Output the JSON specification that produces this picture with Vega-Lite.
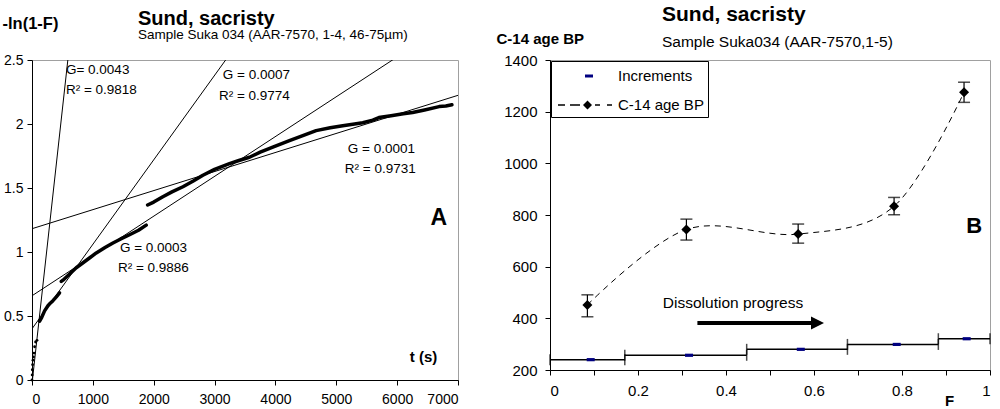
{
  "$schema": "https://vega.github.io/schema/vega-lite/v6.json",
  "background": "white",
  "padding": {"left": 1, "top": 3, "right": 0, "bottom": 0},
  "spacing": 36,
  "align": "none",
  "resolve": {"legend": {"shape": "independent", "color": "independent"}},
  "config": {
    "font": "Liberation Sans",
    "view": {"stroke": "#a0a0a0", "strokeWidth": 1},
    "axis": {"grid": false, "domainColor": "black", "domainWidth": 1, "tickColor": "black", "tickSize": 5, "labelColor": "black", "titleColor": "black", "labelFont": "Liberation Sans", "titleFont": "Liberation Sans", "titleFontWeight": "bold"},
    "title": {"color": "black", "subtitleColor": "black", "fontWeight": "bold", "anchor": "start"}
  },
  "datasets": {
    "curve": [
      {"t": 0, "y": 0, "seg": 1}, {"t": 3, "y": 0.04, "seg": 1}, {"t": 5, "y": 0.08, "seg": 1}, {"t": 10, "y": 0.12, "seg": 1}, {"t": 16, "y": 0.155, "seg": 1}, {"t": 25, "y": 0.18, "seg": 1}, {"t": 33, "y": 0.21, "seg": 1}, {"t": 43, "y": 0.26, "seg": 1}, {"t": 59, "y": 0.297, "seg": 1}, {"t": 82, "y": 0.31, "seg": 1},
      {"t": 125, "y": 0.46, "seg": 2}, {"t": 160, "y": 0.49, "seg": 2}, {"t": 207, "y": 0.54, "seg": 2}, {"t": 262, "y": 0.58, "seg": 2}, {"t": 300, "y": 0.6, "seg": 2}, {"t": 344, "y": 0.62, "seg": 2}, {"t": 400, "y": 0.65, "seg": 2}, {"t": 453, "y": 0.68, "seg": 2},
      {"t": 481, "y": 0.77, "seg": 3}, {"t": 509, "y": 0.78, "seg": 3}, {"t": 600, "y": 0.82, "seg": 3}, {"t": 727, "y": 0.877, "seg": 3}, {"t": 850, "y": 0.92, "seg": 3}, {"t": 950, "y": 0.955, "seg": 3}, {"t": 1056, "y": 0.993, "seg": 3}, {"t": 1200, "y": 1.035, "seg": 3}, {"t": 1330, "y": 1.07, "seg": 3}, {"t": 1450, "y": 1.1, "seg": 3}, {"t": 1603, "y": 1.135, "seg": 3}, {"t": 1750, "y": 1.17, "seg": 3}, {"t": 1877, "y": 1.21, "seg": 3},
      {"t": 1900, "y": 1.367, "seg": 4}, {"t": 2000, "y": 1.39, "seg": 4}, {"t": 2150, "y": 1.432, "seg": 4}, {"t": 2300, "y": 1.47, "seg": 4}, {"t": 2480, "y": 1.51, "seg": 4}, {"t": 2650, "y": 1.555, "seg": 4}, {"t": 2808, "y": 1.6, "seg": 4}, {"t": 3000, "y": 1.645, "seg": 4}, {"t": 3245, "y": 1.69, "seg": 4}, {"t": 3400, "y": 1.715, "seg": 4}, {"t": 3573, "y": 1.74, "seg": 4}, {"t": 3750, "y": 1.78, "seg": 4}, {"t": 3957, "y": 1.82, "seg": 4}, {"t": 4230, "y": 1.87, "seg": 4}, {"t": 4450, "y": 1.91, "seg": 4}, {"t": 4668, "y": 1.948, "seg": 4}, {"t": 4900, "y": 1.97, "seg": 4}, {"t": 5106, "y": 1.987, "seg": 4}, {"t": 5300, "y": 2.0, "seg": 4}, {"t": 5435, "y": 2.01, "seg": 4}, {"t": 5600, "y": 2.03, "seg": 4}, {"t": 5700, "y": 2.05, "seg": 4}, {"t": 5900, "y": 2.065, "seg": 4}, {"t": 6100, "y": 2.08, "seg": 4}, {"t": 6254, "y": 2.09, "seg": 4}, {"t": 6450, "y": 2.11, "seg": 4}, {"t": 6690, "y": 2.136, "seg": 4}, {"t": 6800, "y": 2.14, "seg": 4}, {"t": 6900, "y": 2.15, "seg": 4}
    ],
    "fits": [
      {"t": 0, "y": -0.03, "fit": "G1"}, {"t": 612, "y": 2.6, "fit": "G1"},
      {"t": 0, "y": 0.4, "fit": "G2"}, {"t": 3300, "y": 2.578, "fit": "G2"},
      {"t": 0, "y": 0.658, "fit": "G3"}, {"t": 6200, "y": 2.586, "fit": "G3"},
      {"t": 0, "y": 1.182, "fit": "G4"}, {"t": 7000, "y": 2.224, "fit": "G4"}
    ],
    "notesA": [
      {"t": 558, "y": 2.42, "label": "G= 0.0043"},
      {"t": 558, "y": 2.268, "label": "R² = 0.9818"},
      {"t": 3136, "y": 2.384, "label": "G = 0.0007"},
      {"t": 3071, "y": 2.221, "label": "R² = 0.9774"},
      {"t": 5189, "y": 1.803, "label": "G = 0.0001"},
      {"t": 5140, "y": 1.649, "label": "R² = 0.9731"},
      {"t": 1445, "y": 1.029, "label": "G = 0.0003"},
      {"t": 1412, "y": 0.875, "label": "R² = 0.9886"}
    ],
    "letterA": [{"t": 6683, "y": 1.262, "label": "A"}],
    "c14": [
      {"F": 0.085, "age": 452, "lo": 406, "hi": 491},
      {"F": 0.31, "age": 744, "lo": 703, "hi": 784},
      {"F": 0.564, "age": 726, "lo": 691, "hi": 765},
      {"F": 0.782, "age": 834, "lo": 801, "hi": 868},
      {"F": 0.941, "age": 1275, "lo": 1236, "hi": 1314}
    ],
    "inc": [
      {"F": 0.0925, "age": 240, "f0": 0, "f1": 0.17},
      {"F": 0.316, "age": 257, "f0": 0.17, "f1": 0.447},
      {"F": 0.57, "age": 280, "f0": 0.447, "f1": 0.676},
      {"F": 0.788, "age": 299, "f0": 0.676, "f1": 0.8826},
      {"F": 0.947, "age": 321, "f0": 0.8826, "f1": 1.0}
    ],
    "progress": [{"F": 0.416, "age": 458, "label": "Dissolution progress"}],
    "arrow": [{"F": 0.335, "F2": 0.6, "age": 382, "Fh": 0.608}],
    "letterB": [{"F": 0.964, "age": 759, "label": "B"}]
  },
  "hconcat": [
    {
      "width": 426,
      "height": 320,
      "title": {"text": "Sund, sacristy", "subtitle": "Sample Suka 034 (AAR-7570, 1-4, 46-75µm)", "dx": 136, "dy": 3.5, "fontSize": 20, "subtitleFontSize": 13.5, "subtitlePadding": -1, "offset": -23},
      "layer": [
        {
          "data": {"name": "fits"},
          "mark": {"type": "line", "color": "black", "strokeWidth": 1, "clip": true},
          "encoding": {
            "x": {"field": "t", "type": "quantitative", "scale": {"domain": [0, 7000], "nice": false, "zero": false},
                  "axis": {"values": [0, 1000, 2000, 3000, 4000, 5000, 6000, 7000], "format": "d", "labelFontSize": 14, "labelPadding": 7, "title": "t (s)", "titleFontSize": 15, "titleX": 391, "titleY": -24, "titleAlign": "center", "titleBaseline": "middle"}},
            "y": {"field": "y", "type": "quantitative", "scale": {"domain": [0, 2.5], "nice": false, "zero": false},
                  "axis": {"values": [0, 0.5, 1, 1.5, 2, 2.5], "format": "~g", "labelFontSize": 14, "labelPadding": 4, "title": "-ln(1-F)", "titleFontSize": 16.5, "titleAngle": 0, "titleAlign": "left", "titleBaseline": "middle", "titleX": -30, "titleY": -37}},
            "detail": {"field": "fit"}
          }
        },
        {
          "data": {"name": "curve"},
          "transform": [{"filter": "datum.seg > 1"}],
          "mark": {"type": "line", "color": "black", "strokeWidth": 3.5, "strokeCap": "round", "strokeJoin": "round"},
          "encoding": {
            "x": {"field": "t", "type": "quantitative"},
            "y": {"field": "y", "type": "quantitative"},
            "detail": {"field": "seg"}
          }
        },
        {
          "data": {"name": "curve"},
          "transform": [{"filter": "datum.seg == 1"}],
          "mark": {"type": "point", "filled": true, "color": "black", "size": 8, "opacity": 1},
          "encoding": {
            "x": {"field": "t", "type": "quantitative"},
            "y": {"field": "y", "type": "quantitative"}
          }
        },
        {
          "data": {"name": "notesA"},
          "mark": {"type": "text", "align": "left", "baseline": "middle", "fontSize": 13.5, "color": "black"},
          "encoding": {
            "x": {"field": "t", "type": "quantitative"},
            "y": {"field": "y", "type": "quantitative"},
            "text": {"field": "label"}
          }
        },
        {
          "data": {"name": "letterA"},
          "mark": {"type": "text", "align": "center", "baseline": "middle", "fontSize": 23, "fontWeight": "bold", "color": "black"},
          "encoding": {
            "x": {"field": "t", "type": "quantitative"},
            "y": {"field": "y", "type": "quantitative"},
            "text": {"field": "label"}
          }
        }
      ]
    },
    {
      "width": 440,
      "height": 310,
      "title": {"text": "Sund, sacristy", "subtitle": "Sample Suka034 (AAR-7570,1-5)", "dx": 166, "fontSize": 21, "subtitleFontSize": 15.5, "subtitlePadding": 10, "offset": -19},
      "layer": [
        {
          "data": {"name": "c14"},
          "mark": {"type": "line", "color": "black", "strokeWidth": 1, "strokeDash": [6, 5], "interpolate": "cardinal", "tension": 0},
          "encoding": {
            "x": {"field": "F", "type": "quantitative", "title": "F", "scale": {"domain": [0, 1], "nice": false, "zero": false},
                  "axis": {"values": [0, 0.1, 0.2, 0.3, 0.4, 0.5, 0.6, 0.7, 0.8, 0.9, 1], "labelExpr": "abs(datum.value * 5 - round(datum.value * 5)) < 0.001 ? format(datum.value, '~g') : ''", "labelFontSize": 15, "labelPadding": 8, "titleFontSize": 15, "titleX": 399, "titleY": 30, "titleAlign": "center", "titleBaseline": "middle"}},
            "y": {"field": "age", "type": "quantitative", "title": "C-14 age BP", "scale": {"domain": [200, 1400], "nice": false, "zero": false},
                  "axis": {"values": [200, 300, 400, 500, 600, 700, 800, 900, 1000, 1100, 1200, 1300, 1400], "labelExpr": "datum.value % 200 == 0 ? datum.value + '' : ''", "labelFontSize": 15, "labelPadding": 8, "titleFontSize": 15, "titleAngle": 0, "titleAlign": "left", "titleBaseline": "middle", "titleX": -54, "titleY": -22}}
          }
        },
        {
          "data": {"name": "c14"},
          "mark": {"type": "rule", "color": "black", "strokeWidth": 1.2},
          "encoding": {
            "x": {"field": "F", "type": "quantitative", "title": "F"},
            "y": {"field": "lo", "type": "quantitative", "title": "C-14 age BP"},
            "y2": {"field": "hi"}
          }
        },
        {
          "data": {"name": "c14"},
          "mark": {"type": "tick", "color": "black", "orient": "horizontal", "size": 12, "thickness": 1.5},
          "encoding": {
            "x": {"field": "F", "type": "quantitative", "title": "F"},
            "y": {"field": "lo", "type": "quantitative", "title": "C-14 age BP"}
          }
        },
        {
          "data": {"name": "c14"},
          "mark": {"type": "tick", "color": "black", "orient": "horizontal", "size": 12, "thickness": 1.5},
          "encoding": {
            "x": {"field": "F", "type": "quantitative", "title": "F"},
            "y": {"field": "hi", "type": "quantitative", "title": "C-14 age BP"}
          }
        },
        {
          "data": {"name": "inc"},
          "mark": {"type": "rule", "color": "black", "strokeWidth": 1.5},
          "encoding": {
            "x": {"field": "f0", "type": "quantitative", "title": "F"},
            "x2": {"field": "f1"},
            "y": {"field": "age", "type": "quantitative", "title": "C-14 age BP"}
          }
        },
        {
          "data": {"name": "inc"},
          "mark": {"type": "tick", "color": "black", "orient": "vertical", "size": 11, "thickness": 1.5},
          "encoding": {
            "x": {"field": "f0", "type": "quantitative", "title": "F"},
            "y": {"field": "age", "type": "quantitative", "title": "C-14 age BP"}
          }
        },
        {
          "data": {"name": "inc"},
          "mark": {"type": "tick", "color": "black", "orient": "vertical", "size": 11, "thickness": 1.5},
          "encoding": {
            "x": {"field": "f1", "type": "quantitative", "title": "F"},
            "y": {"field": "age", "type": "quantitative", "title": "C-14 age BP"}
          }
        },
        {
          "data": {"name": "inc"},
          "mark": {"type": "point", "filled": true, "color": "#000080", "size": 64, "opacity": 1, "shape": "M-1,-0.4H1V0.4H-1Z"},
          "encoding": {
            "x": {"field": "F", "type": "quantitative", "title": "F"},
            "y": {"field": "age", "type": "quantitative", "title": "C-14 age BP"}
          }
        },
        {
          "data": {"name": "c14"},
          "mark": {"type": "point", "filled": true, "color": "black", "size": 100, "opacity": 1, "shape": "diamond"},
          "encoding": {
            "x": {"field": "F", "type": "quantitative", "title": "F"},
            "y": {"field": "age", "type": "quantitative", "title": "C-14 age BP"}
          }
        },
        {
          "data": {"name": "c14"},
          "transform": [{"filter": "false"}],
          "mark": {"type": "point", "filled": true, "opacity": 1},
          "encoding": {
            "x": {"field": "F", "type": "quantitative", "title": "F"},
            "y": {"field": "age", "type": "quantitative", "title": "C-14 age BP"},
            "shape": {"datum": "C-14 age BP", "type": "nominal",
                      "scale": {"domain": ["Increments", "C-14 age BP"], "range": ["M1.7,-0.15H2.5V0.15H1.7Z", "M-1,-0.07H-0.3V0.07H-1Z M0.2,-0.07H1.2V0.07H0.2Z M2.7,-0.07H3.2V0.07H2.7Z M3.9,-0.07H4.4V0.07H3.9Z M1.95,-0.45L2.4,0L1.95,0.45L1.5,0Z"]},
                      "legend": {"title": null, "orient": "top-left", "offset": 1, "strokeColor": "black", "fillColor": "white", "padding": 4, "rowPadding": 10, "symbolSize": 400, "symbolOffset": 2, "labelOffset": 39, "labelFontSize": 15, "labelColor": "black", "labelFont": "Liberation Sans"}},
            "color": {"datum": "C-14 age BP", "type": "nominal",
                      "scale": {"domain": ["Increments", "C-14 age BP"], "range": ["#000080", "#000000"]},
                      "legend": {"title": null, "orient": "top-left", "offset": 1, "strokeColor": "black", "fillColor": "white", "padding": 4, "rowPadding": 10, "symbolSize": 400, "symbolOffset": 2, "labelOffset": 39, "labelFontSize": 15, "labelColor": "black", "labelFont": "Liberation Sans"}}
          }
        },
        {
          "data": {"name": "progress"},
          "mark": {"type": "text", "align": "center", "baseline": "middle", "fontSize": 15.5, "color": "black"},
          "encoding": {
            "x": {"field": "F", "type": "quantitative", "title": "F"},
            "y": {"field": "age", "type": "quantitative", "title": "C-14 age BP"},
            "text": {"field": "label"}
          }
        },
        {
          "data": {"name": "arrow"},
          "mark": {"type": "rule", "color": "black", "strokeWidth": 4},
          "encoding": {
            "x": {"field": "F", "type": "quantitative", "title": "F"},
            "x2": {"field": "F2"},
            "y": {"field": "age", "type": "quantitative", "title": "C-14 age BP"}
          }
        },
        {
          "data": {"name": "arrow"},
          "mark": {"type": "point", "filled": true, "color": "black", "size": 169, "opacity": 1, "shape": "M-1,-1L1,0L-1,1Z"},
          "encoding": {
            "x": {"field": "Fh", "type": "quantitative", "title": "F"},
            "y": {"field": "age", "type": "quantitative", "title": "C-14 age BP"}
          }
        },
        {
          "data": {"name": "letterB"},
          "mark": {"type": "text", "align": "center", "baseline": "middle", "fontSize": 22, "fontWeight": "bold", "color": "black"},
          "encoding": {
            "x": {"field": "F", "type": "quantitative", "title": "F"},
            "y": {"field": "age", "type": "quantitative", "title": "C-14 age BP"},
            "text": {"field": "label"}
          }
        }
      ]
    }
  ]
}
